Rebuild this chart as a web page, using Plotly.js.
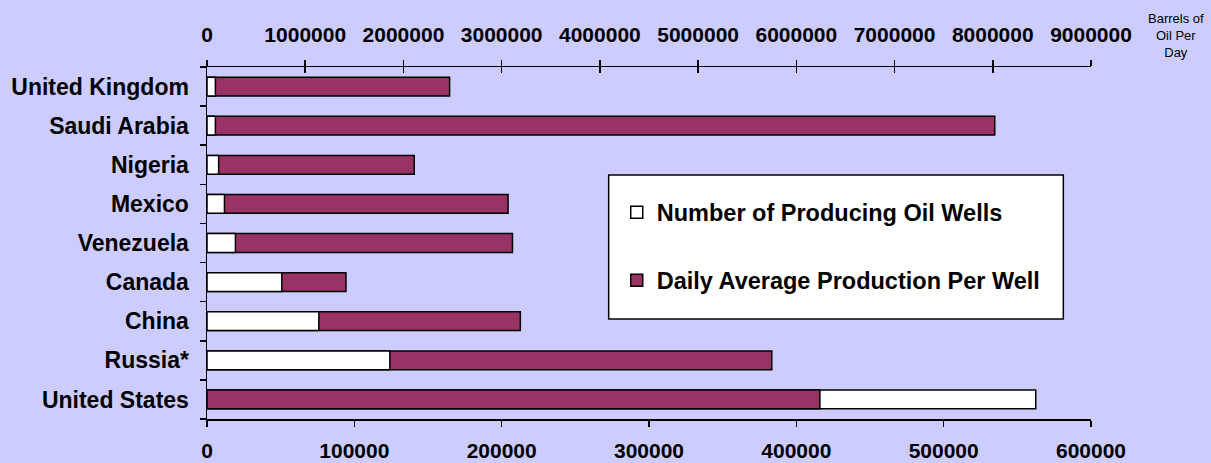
<!DOCTYPE html>
<html>
<head>
<meta charset="utf-8">
<script src="https://cdn.plot.ly/plotly-3.0.1.min.js"></script>
<style>html,body{margin:0;padding:0;background:#CCCCFF;}#chart{width:1211px;height:463px;}</style>
</head>
<body>
<div id="chart"></div>
<script>
const countries = ['United States','Russia*','China','Canada','Venezuela','Mexico','Nigeria','Saudi Arabia','United Kingdom'];
const wells = [562500,124100,75900,50800,19300,11850,7900,5700,5700];
const production = [6240000,5750000,3190000,1415000,3110000,3065000,2110000,8020000,2470000];
const wellsTicks = [0,100000,200000,300000,400000,500000,600000];
const prodTicks = [0,1000000,2000000,3000000,4000000,5000000,6000000,7000000,8000000,9000000];
const wellsName = 'Number of Producing Oil Wells';
const prodName = 'Daily Average Production Per Well';

const WELLS_MAX = 600000, PROD_MAX = 9000000;
const PURPLE = '#993366';
const FONT = 'Liberation Sans, Arial, sans-serif';

// shorter bar drawn on top of longer one
const prodUnderY = [], prodUnderX = [], prodOverY = [], prodOverX = [];
countries.forEach((c, i) => {
  if (production[i] / PROD_MAX < wells[i] / WELLS_MAX) { prodOverY.push(c); prodOverX.push(production[i]); }
  else { prodUnderY.push(c); prodUnderX.push(production[i]); }
});

const barLine = {color: '#000', width: 1.5};
const traces = [
  {type: 'bar', orientation: 'h', name: prodName, y: prodUnderY, x: prodUnderX, xaxis: 'x', yaxis: 'y',
   marker: {color: PURPLE, line: barLine}, legend: 'legend2', hoverinfo: 'x+y'},
  {type: 'bar', orientation: 'h', name: wellsName, y: countries, x: wells, xaxis: 'x2', yaxis: 'y',
   marker: {color: '#FFFFFF', line: barLine}, legend: 'legend', hoverinfo: 'x+y'},
  {type: 'bar', orientation: 'h', name: prodName, y: prodOverY, x: prodOverX, xaxis: 'x3', yaxis: 'y',
   marker: {color: PURPLE, line: barLine}, showlegend: false, hoverinfo: 'x+y'}
];

const tickFont = {family: FONT, size: 21, color: '#000', weight: 'bold'};
const catFont = {family: FONT, size: 23, color: '#000', weight: 'bold'};
const legFont = {family: FONT, size: 23.5, color: '#000', weight: 'bold'};
const layout = {
  width: 1211, height: 463,
  margin: {l: 207, r: 120, t: 67, b: 44},
  paper_bgcolor: '#CCCCFF', plot_bgcolor: '#CCCCFF',
  barmode: 'overlay', bargap: 0.52,
  showlegend: true,
  xaxis: {range: [0, PROD_MAX], side: 'top', tickvals: prodTicks, ticktext: prodTicks.map(String),
          ticks: 'outside', ticklen: 6, tickwidth: 1.5, tickcolor: '#000', showline: true, linecolor: '#000', linewidth: 1.5,
          showgrid: false, zeroline: false, tickfont: tickFont, ticklabelstandoff: 9, automargin: false, fixedrange: true},
  xaxis2: {range: [0, WELLS_MAX], side: 'bottom', overlaying: 'x', anchor: 'y', tickvals: wellsTicks, ticktext: wellsTicks.map(String),
          ticks: 'outside', ticklen: 6, tickwidth: 1.5, tickcolor: '#000', showline: true, linecolor: '#000', linewidth: 1.5,
          showgrid: false, zeroline: false, tickfont: tickFont, ticklabelstandoff: 6, automargin: false, fixedrange: true},
  xaxis3: {range: [0, PROD_MAX], side: 'top', overlaying: 'x', anchor: 'y', tickvals: prodTicks, showticklabels: false,
          ticks: 'inside', ticklen: 6, tickwidth: 1.5, tickcolor: '#000', showline: false,
          showgrid: false, zeroline: false, automargin: false, fixedrange: true},
  yaxis: {type: 'category', categoryorder: 'array', categoryarray: countries, tickson: 'boundaries',
          ticks: 'outside', ticklen: 6, tickwidth: 1.5, tickcolor: '#000', showline: true, linecolor: '#000', linewidth: 1.5,
          showgrid: false, zeroline: false, tickfont: catFont, ticklabelstandoff: 12, automargin: false, fixedrange: true},
  legend: {x: 0.4635, xanchor: 'left', y: 0.5866, yanchor: 'middle', bgcolor: 'rgba(0,0,0,0)', borderwidth: 0, font: legFont},
  legend2: {x: 0.4635, xanchor: 'left', y: 0.3935, yanchor: 'middle', bgcolor: 'rgba(0,0,0,0)', borderwidth: 0, font: legFont},
  shapes: [{type: 'rect', xref: 'paper', yref: 'paper', x0: 0.4544, x1: 0.9687, y0: 0.284, y1: 0.693,
            fillcolor: '#FFFFFF', line: {color: '#000', width: 1.5}, layer: 'below'}],
  annotations: [{xref: 'paper', yref: 'paper', x: 1.0965, y: 1.0, xanchor: 'center', yanchor: 'middle',
                 yshift: 32, showarrow: false, align: 'center',
                 text: 'Barrels of<br>Oil Per<br>Day', font: {family: FONT, size: 13, color: '#000'}}]
};

Plotly.newPlot('chart', traces, layout, {displayModeBar: false, staticPlot: true});
</script>
</body>
</html>
